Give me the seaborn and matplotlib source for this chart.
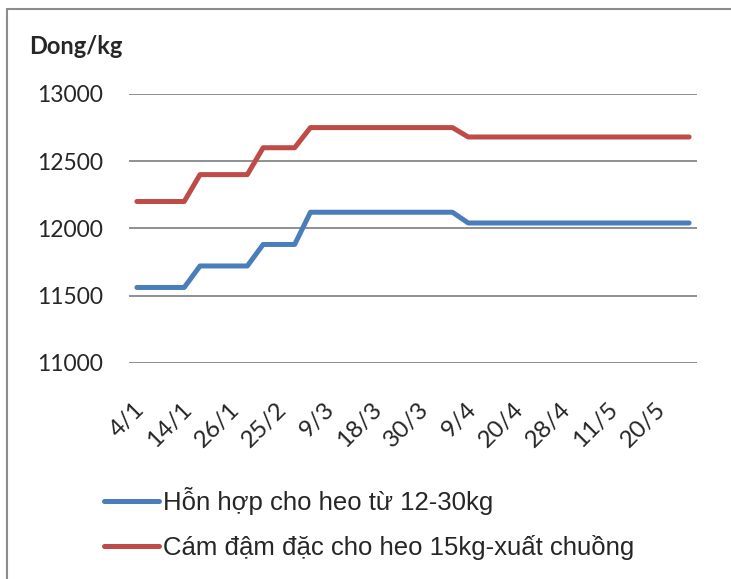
import numpy as np
import pandas as pd
import matplotlib
matplotlib.use("Agg")
import matplotlib.pyplot as plt
from matplotlib.lines import Line2D
from matplotlib.transforms import ScaledTranslation
import seaborn as sns

# ----------------------------------------
# Data
# ----------------------------------------
tick_labels = ["4/1", "14/1", "26/1", "25/2", "9/3", "18/3",
               "30/3", "9/4", "20/4", "28/4", "11/5", "20/5"]

hon_hop = [11560, 11560, 11560, 11560, 11720, 11720, 11720, 11720,
           11880, 11880, 11880, 12120, 12120, 12120, 12120, 12120,
           12120, 12120, 12120, 12120, 12120, 12040, 12040, 12040,
           12040, 12040, 12040, 12040, 12040, 12040, 12040, 12040,
           12040, 12040, 12040, 12040]

cam_dam_dac = [12200, 12200, 12200, 12200, 12400, 12400, 12400, 12400,
               12600, 12600, 12600, 12750, 12750, 12750, 12750, 12750,
               12750, 12750, 12750, 12750, 12750, 12680, 12680, 12680,
               12680, 12680, 12680, 12680, 12680, 12680, 12680, 12680,
               12680, 12680, 12680, 12680]

series_names = ["Hỗn hợp cho heo từ 12-30kg",
                "Cám đậm đặc cho heo 15kg-xuất chuồng"]
colors = ["#4A7EBB", "#BE4B48"]

df = pd.DataFrame({"pos": np.arange(len(hon_hop)),
                   series_names[0]: hon_hop,
                   series_names[1]: cam_dam_dac})

# ----------------------------------------
# Style
# ----------------------------------------
sns.set_style("white")
plt.rcParams["font.family"] = ["Lato", "DejaVu Sans"]

W, H = 731, 579
fig = plt.figure(figsize=(W / 100, H / 100), dpi=100)
ax = fig.add_axes([129 / W, 1 - 362.7 / H, 568 / W, 268.7 / H])

for name, col in zip(series_names, colors):
    sns.lineplot(data=df, x="pos", y=name, color=col, linewidth=3.6,
                 label=name, ax=ax, solid_capstyle="round")

ax.set_xlim(-0.5, len(hon_hop) - 0.5)
ax.set_ylim(11000, 13000)
ax.set_yticks([11000, 11500, 12000, 12500, 13000])
ax.yaxis.grid(True, color="#878787", linewidth=1.3)
ax.xaxis.grid(False)
for s in ax.spines.values():
    s.set_visible(False)
ax.set_xlabel("")
ax.set_ylabel("")

ax.set_xticks(np.arange(0, len(hon_hop), 3))
ax.set_xticklabels(tick_labels, rotation=45, ha="right", va="top",
                   rotation_mode="anchor", fontsize=17.5)
ax.tick_params(axis="x", length=0, pad=0)
ax.tick_params(axis="y", length=0, pad=18.5, labelsize=16.5)
offset = ScaledTranslation(-3 / 100, -36 / 100, fig.dpi_scale_trans)
for lab in ax.get_xticklabels():
    lab.set_transform(lab.get_transform() + offset)

# unit label
fig.text(29 / W, 1 - 47 / H, "Dong/kg", fontsize=17, fontweight="bold",
         va="center", ha="left")

# legend below the plot
ax.legend(loc="center left", bbox_to_anchor=(104 / W, 1 - 523.5 / H),
          bbox_transform=fig.transFigure, frameon=False,
          prop={"family": "Liberation Sans", "size": 18.5},
          handlelength=2.15, handletextpad=0.15, labelspacing=0.75,
          borderpad=0, borderaxespad=0)

# chart border (left and top edges)
fig.add_artist(Line2D([7 / W, 7 / W], [0, 1 - 8.5 / H], color="#8C8C8C",
                      linewidth=1.5, transform=fig.transFigure))
fig.add_artist(Line2D([7 / W, 1], [1 - 8.5 / H, 1 - 8.5 / H], color="#8C8C8C",
                      linewidth=1.5, transform=fig.transFigure))

fig.savefig("out.png", dpi=100)
